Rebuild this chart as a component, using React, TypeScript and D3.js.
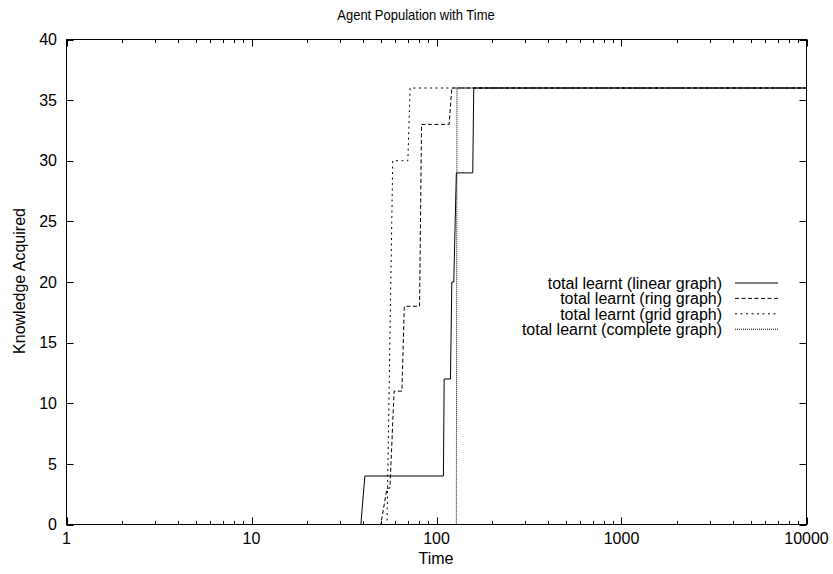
import React from "react";
import * as d3 from "d3";

const linearT = [1, 39, 41, 109, 110, 119, 121, 124, 128, 157, 159, 10000];
const linearV = [0, 0, 4, 4, 12, 12, 20, 20, 29, 29, 36, 36];
const ringT = [1, 50, 54, 56, 59, 65, 67, 81, 83, 117, 121, 10000];
const ringV = [0, 0, 3, 3, 11, 11, 18, 18, 33, 33, 36, 36];
const gridT = [1, 54, 58, 70, 72, 10000];
const gridV = [0, 0, 30, 30, 36, 36];
const completeT = [1, 128, 129, 10000];
const completeV = [0, 0, 36, 36];

const seriesNames = [
  "total learnt (linear graph)",
  "total learnt (ring graph)",
  "total learnt (grid graph)",
  "total learnt (complete graph)",
];
const seriesDash = ["", "4,2.5", "2,3.5", "1,1"];

const xTicks = [1, 10, 100, 1000, 10000];
const yTicks = [0, 5, 10, 15, 20, 25, 30, 35, 40];

const W = 833;
const H = 574;
const L = 66.5, R = 806.5, T = 39.5, B = 524.5;
const FONT = "'Liberation Sans', Arial, Helvetica, sans-serif";

function Txt({ x, y, anchor = "start", rotate = 0, fs = 16, sx = 1, sy = 1, children }: any) {
  return (
    <text
      transform={`translate(${x},${y}) scale(${sx},${sy}) rotate(${rotate})`}
      textAnchor={anchor}
      fontFamily={FONT}
      fontSize={fs}
      fill="#000"
    >
      {children}
    </text>
  );
}

export default function App() {
  const x = d3.scaleLog().domain([1, 10000]).range([L, R]);
  const y = d3.scaleLinear().domain([0, 40]).range([B, T]);
  const line = d3
    .line<[number, number]>()
    .x((d) => x(d[0]))
    .y((d) => y(d[1]));

  const data: [number, number][][] = [
    linearT.map((t, i) => [t, linearV[i]]),
    ringT.map((t, i) => [t, ringV[i]]),
    gridT.map((t, i) => [t, gridV[i]]),
    completeT.map((t, i) => [t, completeV[i]]),
  ];

  const minor: number[] = [];
  for (let dec = 1; dec < 10000; dec *= 10) {
    for (let k = 2; k <= 9; k++) minor.push(dec * k);
  }

  const legendY0 = 283;
  const legendDy = 15.4;

  return (
    <svg width={W} height={H} style={{ display: "block", position: "absolute", left: 0, top: 0 }}>
      <rect x={0} y={0} width={W} height={H} fill="#fff" />
      {/* ticks */}
      <g stroke="#000" strokeWidth={1}>
        {xTicks.map((t) => (
          <g key={"xt" + t}>
            <line x1={Math.round(x(t)) + 0.5} x2={Math.round(x(t)) + 0.5} y1={B} y2={B - 7} />
            <line x1={Math.round(x(t)) + 0.5} x2={Math.round(x(t)) + 0.5} y1={T} y2={T + 7} />
          </g>
        ))}
        {minor.map((t) => (
          <g key={"xm" + t}>
            <line x1={Math.round(x(t)) + 0.5} x2={Math.round(x(t)) + 0.5} y1={B} y2={B - 3.5} />
            <line x1={Math.round(x(t)) + 0.5} x2={Math.round(x(t)) + 0.5} y1={T} y2={T + 3.5} />
          </g>
        ))}
        {yTicks.map((v) => (
          <g key={"yt" + v}>
            <line x1={L} x2={L + 7} y1={Math.round(y(v)) + 0.5} y2={Math.round(y(v)) + 0.5} />
            <line x1={R} x2={R - 7} y1={Math.round(y(v)) + 0.5} y2={Math.round(y(v)) + 0.5} />
          </g>
        ))}
      </g>
      {/* series */}
      <g fill="none" stroke="#000" strokeWidth={1}>
        {data.map((d, i) => (
          <path key={i} d={line(d) || ""} strokeDasharray={seriesDash[i] || undefined} />
        ))}
      </g>
      {/* frame */}
      <rect x={L} y={T} width={R - L} height={B - T} fill="none" stroke="#000" strokeWidth={1} />
      {/* tick labels */}
      {xTicks.map((t) => (
        <Txt key={"xl" + t} x={x(t)} y={544} anchor="middle">
          {String(t)}
        </Txt>
      ))}
      {yTicks.map((v) => (
        <Txt key={"yl" + v} x={57} y={y(v) + 5.7} anchor="end">
          {String(v)}
        </Txt>
      ))}
      {/* titles */}
      <Txt x={416} y={20} anchor="middle" fs={13} sy={1.15}>Agent Population with Time</Txt>
      <Txt x={436} y={564} anchor="middle">Time</Txt>
      <Txt x={25} y={281} anchor="middle" rotate={-90}>Knowledge Acquired</Txt>
      {/* legend */}
      {seriesNames.map((n, i) => (
        <g key={"lg" + i}>
          <Txt x={722} y={legendY0 + i * legendDy + 5.7} anchor="end">{n}</Txt>
          <line
            x1={735}
            x2={778}
            y1={legendY0 + i * legendDy}
            y2={legendY0 + i * legendDy}
            stroke="#000"
            strokeWidth={1}
            strokeDasharray={seriesDash[i] || undefined}
          />
        </g>
      ))}
    </svg>
  );
}
